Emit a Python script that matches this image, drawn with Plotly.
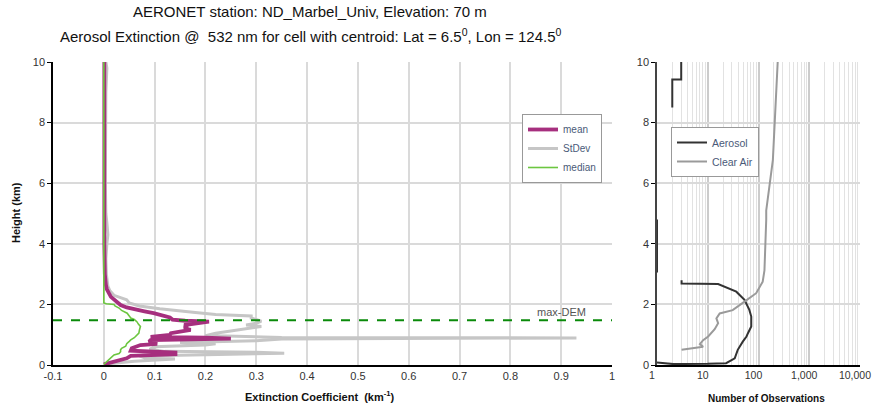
import plotly.graph_objects as go

W, H = 875, 412

# ---------------- data ----------------
# Left panel: extinction profiles (km^-1) vs height (km)
mean_h = [0.02, 0.05, 0.12, 0.16, 0.22, 0.30, 0.34, 0.36, 0.41, 0.44, 0.47, 0.55, 0.62, 0.66, 0.70, 0.77, 0.82, 0.85,
          0.87, 0.90, 0.93, 0.99, 1.05, 1.10, 1.16, 1.21, 1.27, 1.32, 1.375, 1.41, 1.43, 1.46, 1.50, 1.57, 1.64, 1.71,
          1.77, 1.82, 1.90, 1.98, 2.08, 2.15, 2.25, 2.37, 2.50, 2.65, 3.0, 4.0, 5.0, 6.0, 7.0, 8.0, 9.0, 10.0]
mean_x = [0.0, 0.007, 0.02, 0.036, 0.045, 0.053, 0.10, 0.141, 0.141, 0.08, 0.053, 0.055, 0.068, 0.072, 0.105, 0.089,
          0.092, 0.17, 0.25, 0.20, 0.092, 0.13, 0.132, 0.15, 0.171, 0.158, 0.165, 0.158, 0.178, 0.20, 0.207, 0.16,
          0.135, 0.13, 0.115, 0.098, 0.08, 0.065, 0.045, 0.033, 0.025, 0.02, 0.014, 0.01, 0.006, 0.004, 0.002, 0.001,
          0.001, 0.0, 0.0, 0.0, 0.001, 0.001]

std_h = [0.02, 0.06, 0.12, 0.16, 0.20, 0.24, 0.30, 0.34, 0.37, 0.39, 0.42, 0.45, 0.52, 0.60, 0.66, 0.70, 0.74, 0.80,
         0.86, 0.875, 0.895, 0.91, 0.93, 0.97, 1.05, 1.15, 1.22, 1.27, 1.32, 1.38, 1.45, 1.50, 1.55, 1.62, 1.67, 1.73,
         1.80, 1.86, 1.95, 2.05, 2.15, 2.20, 2.30, 2.45, 2.60, 3.0, 3.5, 4.0, 4.3, 4.7, 5.0, 6.0, 7.0, 8.0, 9.0, 9.8,
         10.0]
std_x = [0.005, 0.02, 0.06, 0.10, 0.14, 0.08, 0.07, 0.20, 0.33, 0.355, 0.30, 0.12, 0.09, 0.10, 0.20, 0.22, 0.15, 0.30,
         0.35, 0.93, 0.93, 0.35, 0.30, 0.20, 0.22, 0.26, 0.29, 0.31, 0.28, 0.30, 0.31, 0.30, 0.29, 0.29, 0.22, 0.18,
         0.14, 0.11, 0.07, 0.05, 0.045, 0.035, 0.02, 0.012, 0.008, 0.005, 0.004, 0.006, 0.008, 0.006, 0.004, 0.003,
         0.003, 0.003, 0.004, 0.006, 0.004]

med_h = [0.02, 0.08, 0.16, 0.25, 0.33, 0.38, 0.44, 0.50, 0.55, 0.62, 0.70, 0.78, 0.83, 0.90, 0.98, 1.05, 1.15, 1.27,
         1.35, 1.43, 1.50, 1.55, 1.62, 1.71, 1.80, 1.88, 1.95, 2.00, 2.02, 2.05, 2.5, 3.0, 4.0, 5.0, 6.0, 7.0, 8.0,
         9.0, 10.0]
med_x = [0.0, 0.004, 0.01, 0.016, 0.02, 0.03, 0.033, 0.033, 0.035, 0.043, 0.045, 0.05, 0.053, 0.06, 0.065, 0.069,
         0.07, 0.072, 0.068, 0.065, 0.06, 0.053, 0.05, 0.046, 0.035, 0.03, 0.022, 0.02, 0.005, 0.0, 0.0, 0.0, 0.0,
         0.0, 0.0, 0.0, 0.0, 0.0, 0.0]

MAX_DEM = 1.48  # km

# Right panel: number of observations vs height (None = gap)
aer_n = [1, 2.1, 10, 23, 34, 39, 49, 58, 62, 72, 72, 66, 53, 36.5, 16, 3.05, 3.05, None, 1, 1, None, 2, 2, 3, 3]
aer_h = [0.08, 0.03, 0.04, 0.06, 0.22, 0.50, 0.77, 0.94, 1.05, 1.27, 1.60, 1.82, 2.15, 2.42, 2.67, 2.69, 2.80, None,
         3.05, 4.80, None, 8.50, 9.42, 9.42, 10.0]

clr_n = [3.05, 5, 8.1, 7.0, 8.1, 10.2, 11.8, 13.7, 16, 14.8, 17.2, 31, 53, 90, 121, 131, 142, 142, 192, 239]
clr_h = [0.50, 0.55, 0.60, 0.69, 0.82, 0.94, 1.05, 1.18, 1.38, 1.54, 1.70, 1.81, 2.09, 2.37, 2.75, 3.12, 4.80, 5.10,
         6.77, 10.0]

ext_ticks = [-0.1, 0, 0.1, 0.2, 0.3, 0.4, 0.5, 0.6, 0.7, 0.8, 0.9, 1]
ext_ticktext = ["-0.1", "0", "0.1", "0.2", "0.3", "0.4", "0.5", "0.6", "0.7", "0.8", "0.9", "1"]
obs_ticks = [1, 10, 100, 1000, 10000]
obs_ticktext = ["1", "10", "100", "1,000", "10,000"]
obs_minor = [m * d for d in (1, 10, 100, 1000) for m in range(2, 10)]

# ---------------- figure ----------------
def px(x):
    return x / W

def py(y):
    return 1 - y / H

FONT = "Liberation Sans, Arial, sans-serif"
fig = go.Figure()

fig.add_trace(go.Scatter(x=std_x, y=std_h, mode="lines", name="StDev",
                         line=dict(color="#c6c6c6", width=3), legend="legend"))
fig.add_trace(go.Scatter(x=mean_x, y=mean_h, mode="lines", name="mean",
                         line=dict(color="#a62f7e", width=3.8), legend="legend"))
fig.add_trace(go.Scatter(x=med_x, y=med_h, mode="lines", name="median",
                         line=dict(color="#6cc640", width=1.6), legend="legend"))

fig.add_trace(go.Scatter(x=aer_n, y=aer_h, mode="lines", name="Aerosol", connectgaps=False,
                         line=dict(color="#333333", width=2), xaxis="x2", yaxis="y2", legend="legend2"))
fig.add_trace(go.Scatter(x=clr_n, y=clr_h, mode="lines", name="Clear Air",
                         line=dict(color="#9a9a9a", width=2), xaxis="x2", yaxis="y2", legend="legend2"))

# legend order: mean, StDev, median
fig.data[0].legendrank = 2
fig.data[1].legendrank = 1
fig.data[2].legendrank = 3

fig.add_shape(type="line", xref="x domain", yref="y", x0=0, x1=1, y0=MAX_DEM, y1=MAX_DEM,
              line=dict(color="#0a8a0a", width=2, dash="dash"))
fig.add_annotation(x=0.9, y=MAX_DEM, xref="x", yref="y", text="max-DEM", showarrow=False,
                   yanchor="bottom", yshift=0, font=dict(family=FONT, size=11, color="#555555"))

tickfont = dict(family=FONT, size=11, color="#333333")
grid = "#dadada"
fig.update_layout(
    width=W, height=H, autosize=False,
    margin=dict(l=0, r=0, t=0, b=0, pad=0, autoexpand=False),
    paper_bgcolor="white", plot_bgcolor="white",
    xaxis=dict(domain=[px(53), px(612)], range=[-0.1, 1], tickvals=ext_ticks, ticktext=ext_ticktext,
               showgrid=True, gridcolor=grid, gridwidth=2, zeroline=False, showline=True, automargin=False,
               linecolor="black", linewidth=1.5, ticks="", tickfont=tickfont, anchor="y"),
    yaxis=dict(domain=[py(365), py(62)], range=[0, 10], tickvals=[0, 2, 4, 6, 8, 10],
               showgrid=True, gridcolor=grid, gridwidth=2, zeroline=False, showline=True, automargin=False,
               linecolor="black", linewidth=1.5, ticks="outside", ticklen=4, tickcolor="black",
               tickfont=tickfont, anchor="x"),
    xaxis2=dict(domain=[px(657), px(860)], type="log", range=[0, 4], tickvals=obs_ticks, ticktext=obs_ticktext,
                showgrid=True, gridcolor="#cccccc", gridwidth=1.5, zeroline=False, showline=True, automargin=False,
                linecolor="black", linewidth=1.5, ticks="", tickfont=dict(family=FONT, size=10.5, color="#333333"),
                anchor="y2", ticklabeloverflow="allow", ticklabelshift=-5,
                minor=dict(tickvals=obs_minor, showgrid=True, gridcolor="#e2e2e2", gridwidth=1)),
    yaxis2=dict(domain=[py(365), py(62)], range=[0, 10], tickvals=[0, 2, 4, 6, 8, 10],
                showgrid=True, gridcolor=grid, gridwidth=2, zeroline=False, showline=True, automargin=False,
                linecolor="#444444", linewidth=1.5, ticks="outside", ticklen=4, tickcolor="black",
                tickfont=tickfont, anchor="x2"),
    legend=dict(x=px(522), y=py(114), xanchor="left", yanchor="top", bgcolor="white",
                bordercolor="#999999", borderwidth=1, itemwidth=30, tracegroupgap=0,
                font=dict(family=FONT, size=10, color="#4a5a78")),
    legend2=dict(x=px(671), y=py(127), xanchor="left", yanchor="top", bgcolor="white",
                 bordercolor="#999999", borderwidth=1, itemwidth=30, tracegroupgap=0,
                 font=dict(family=FONT, size=10.5, color="#4a5a78")),
    showlegend=True,
)

titlefont = dict(family="Liberation Sans Narrow, Liberation Sans, Arial", size=15, color="#111111")
fig.add_annotation(x=px(310), y=py(12), xref="paper", yref="paper", showarrow=False,
                   text="AERONET station: ND_Marbel_Univ, Elevation: 70 m", font=titlefont,
                   xanchor="center", yanchor="middle")
fig.add_annotation(x=px(311), y=py(36), xref="paper", yref="paper", showarrow=False,
                   text="Aerosol Extinction @  532 nm for cell with centroid: Lat = 6.5<sup>0</sup>, Lon = 124.5<sup>0</sup>",
                   font=titlefont, xanchor="center", yanchor="middle")

labfont = dict(family=FONT, size=11, color="#111111")
fig.add_annotation(x=px(320), y=py(396), xref="paper", yref="paper", showarrow=False,
                   text="<b>Extinction Coefficient  (km<sup>-1</sup>)</b>", font=labfont,
                   xanchor="center", yanchor="middle")
fig.add_annotation(x=px(16), y=py(213), xref="paper", yref="paper", showarrow=False, textangle=-90,
                   text="<b>Height (km)</b>", font=labfont, xanchor="center", yanchor="middle")
fig.add_annotation(x=px(766), y=py(398), xref="paper", yref="paper", showarrow=False,
                   text="<b>Number of Observations</b>", font=dict(family=FONT, size=10, color="#111111"),
                   xanchor="center", yanchor="middle")

fig.write_html("out.html")
